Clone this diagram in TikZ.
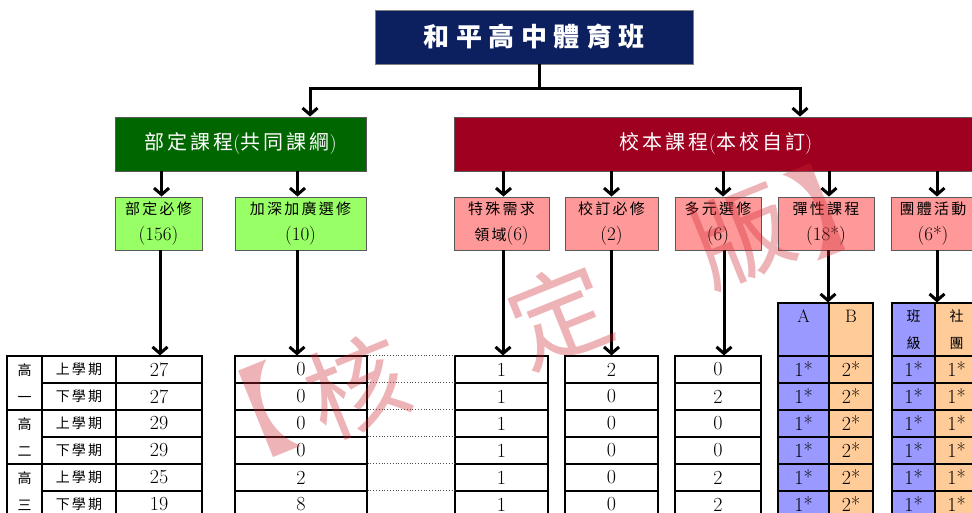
\documentclass[tikz,border=0pt]{standalone}
\usepackage{fontspec}
\usetikzlibrary{arrows.meta}
\newfontfamily\cjk{Noto Sans CJK TC}[LetterSpace=15]
\newfontfamily\cjkt{Noto Sans CJK TC}[LetterSpace=25]
\newfontfamily\cjkw{Noto Sans CJK TC}
\newcommand\zhs[1]{{\fontsize{15}{26}\selectfont\cjk #1}}
\newcommand\zht[1]{{\fontsize{14}{27}\selectfont\cjk #1}}
\newcommand\zhg[1]{{\cjk #1}}
\definecolor{navy}{RGB}{12,32,96}
\definecolor{dgreen}{RGB}{0,102,0}
\definecolor{dred}{RGB}{160,0,32}
\definecolor{lgreen}{RGB}{153,255,102}
\definecolor{lpink}{RGB}{255,153,153}
\definecolor{lpurple}{RGB}{153,153,255}
\definecolor{peach}{RGB}{255,204,153}
\definecolor{wmred}{RGB}{205,40,50}
\begin{document}
\begin{tikzpicture}[x=1pt,y=-1pt,
 box/.style={draw=black!65, line width=0.9pt, inner sep=0pt, align=center},
 topbox/.style={box, draw=black!50, fill=navy, text=white, minimum width=318pt, minimum height=54pt, font=\fontsize{26}{30}\selectfont\cjkt\bfseries},
 grpbox/.style={box, text=white, minimum height=54pt, font=\fontsize{20}{24}\selectfont},
 subbox/.style={box, minimum height=53pt, font=\fontsize{19}{26}\selectfont},
 cell/.style={draw=black, line width=1.1pt, inner sep=0pt, minimum height=27pt, font=\fontsize{20}{24}\selectfont},
 ln/.style={line width=3pt},
 arr/.style={line width=3pt, -{Straight Barb[length=6.5pt,width=15pt]}},
 wm/.style={text=wmred, opacity=0.35, font=\fontsize{100}{100}\selectfont\cjkw, inner sep=0pt, rotate=22},
]
\clip (0,0) rectangle (972,513);
\fill[white] (0,0) rectangle (972,513);

% top
\node[topbox] (title) at (534,37) {和平高中體育班};
\node[grpbox, fill=dgreen, minimum width=251pt] (green) at (240.5,144) {\zhg{部定課程}(\zhg{共同課綱})};
\node[grpbox, fill=dred, minimum width=524pt] (red) at (716,144) {\zhg{校本課程}(\zhg{本校自訂})};

\coordinate (jL) at (310,89);
\coordinate (jR) at (800,89);
\draw[ln] ([xshift=5pt]title.south) -- ([xshift=5pt]title.south |- jL);
\draw[ln, line cap=rect] (jL) -- (jR);
\draw[arr] (jL) -- (jL |- green.north);
\draw[arr] (jR) -- (jR |- red.north);

% sub boxes
\node[subbox, fill=lgreen, minimum width=87pt] (bd) at (158.5,223.5) {\zhs{部定必修}\\(156)};
\node[subbox, fill=lgreen, minimum width=131pt] (jj) at (300.5,223.5) {\zhs{加深加廣選修}\\(10)};
\node[subbox, fill=lpink, minimum width=95pt] (ts) at (501.5,223.5) {\zhs{特殊需求}\\\zhs{領域}(6)};
\node[subbox, fill=lpink, minimum width=93pt] (xd) at (611.5,223.5) {\zhs{校訂必修}\\(2)};
\node[subbox, fill=lpink, minimum width=86pt] (dy) at (718,223.5) {\zhs{多元選修}\\(6)};
\node[subbox, fill=lpink, minimum width=96pt] (tx) at (826,223.5) {\zhs{彈性課程}\\(18*)};
\node[subbox, fill=lpink, minimum width=84pt] (tt) at (933,223.5) {\zhs{團體活動}\\(6*)};

\draw[arr] ([xshift=3pt]bd.north |- green.south) -- ([xshift=3pt]bd.north);
\draw[arr] ([xshift=-3pt]jj.north |- green.south) -- ([xshift=-3pt]jj.north);
\draw[arr] ([xshift=2pt]ts.north |- red.south) -- ([xshift=2pt]ts.north);
\draw[arr] (xd.north |- red.south) -- (xd.north);
\draw[arr] ([xshift=5pt]dy.north |- red.south) -- ([xshift=5pt]dy.north);
\draw[arr] ([xshift=3pt]tx.north |- red.south) -- ([xshift=3pt]tx.north);
\draw[arr] ([xshift=4pt]tt.north |- red.south) -- ([xshift=4pt]tt.north);

% tables
\foreach \g [count=\i] in {一,二,三}
  \node[cell, minimum width=35pt, minimum height=54pt, align=center, font=\fontsize{14}{27}\selectfont\cjk] (gr-\i) at (24.5,{329+54*\i}) {高\\\g};
\foreach \s [count=\i] in {上,下,上,下,上,下}
  \node[cell, minimum width=74pt] (sem-\i) at (79,{342.5+27*\i}) {\zht{\s 學期}};
\foreach \v [count=\i] in {27,27,29,29,25,19}
  \node[cell, minimum width=86pt] (bd-\i) at (159,{342.5+27*\i}) {\v};
\foreach \v [count=\i] in {0,0,0,0,2,8}
  \node[cell, minimum width=132pt] (jj-\i) at (301,{342.5+27*\i}) {\v};
\foreach \v [count=\i] in {1,1,1,1,1,1}
  \node[cell, minimum width=93pt] (ts-\i) at (501.5,{342.5+27*\i}) {\v};
\foreach \v [count=\i] in {2,0,0,0,0,0}
  \node[cell, minimum width=93pt] (xd-\i) at (611.5,{342.5+27*\i}) {\v};
\foreach \v [count=\i] in {0,2,0,0,2,2}
  \node[cell, minimum width=86pt] (dy-\i) at (718,{342.5+27*\i}) {\v};
\foreach \i in {1,...,6}
  \draw[dotted, black!70, line width=0.8pt] (jj-\i.north east) -- (ts-\i.north west);

\node[cell, fill=lpurple, minimum width=51pt, minimum height=53pt, align=center, font=\fontsize{18}{27}\selectfont] (ha) at (803.5,329.5) {A\\\mbox{}};
\node[cell, fill=peach, minimum width=44pt, minimum height=53pt, align=center, font=\fontsize{18}{27}\selectfont] (hb) at (851,329.5) {B\\\mbox{}};
\node[cell, fill=lpurple, minimum width=43pt, minimum height=53pt, align=center, font=\fontsize{14}{27}\selectfont\cjk] (hc) at (913.5,329.5) {班\\級};
\node[cell, fill=peach, minimum width=43pt, minimum height=53pt, align=center, font=\fontsize{14}{27}\selectfont\cjk] (hd) at (956.5,329.5) {社\\團};
\foreach \i in {1,...,6}{
  \node[cell, fill=lpurple, minimum width=51pt] (a-\i) at (803.5,{342.5+27*\i}) {1*};
  \node[cell, fill=peach, minimum width=44pt] (b-\i) at (851,{342.5+27*\i}) {2*};
  \node[cell, fill=lpurple, minimum width=43pt] (c-\i) at (913.5,{342.5+27*\i}) {1*};
  \node[cell, fill=peach, minimum width=43pt] (d-\i) at (956.5,{342.5+27*\i}) {1*};
}

\draw[arr] ([xshift=1.5pt]bd.south) -- ([xshift=1.5pt]bd.south |- bd-1.north);
\draw[arr] ([xshift=-3.5pt]jj.south) -- ([xshift=-3.5pt]jj.south |- jj-1.north);
\draw[arr] ([xshift=1.5pt]ts.south) -- ([xshift=1.5pt]ts.south |- ts-1.north);
\draw[arr] (xd.south) -- (xd-1.north);
\draw[arr] ([xshift=6pt]dy.south) -- ([xshift=6pt]dy.south |- dy-1.north);
\draw[arr] ([xshift=2pt]tx.south) -- ([xshift=2pt]tx.south |- ha.north);
\draw[arr] ([xshift=4pt]tt.south) -- ([xshift=4pt]tt.south |- hc.north);

% watermark
\node[wm] (w1) at (241,421) {【};
\node[wm] (w2) at (357,386) {核};
\node[wm] (w3) at (560,315) {定};
\node[wm] (w4) at (742,235) {版};
\node[wm] (w5) at (844,201) {】};
\end{tikzpicture}
\end{document}
